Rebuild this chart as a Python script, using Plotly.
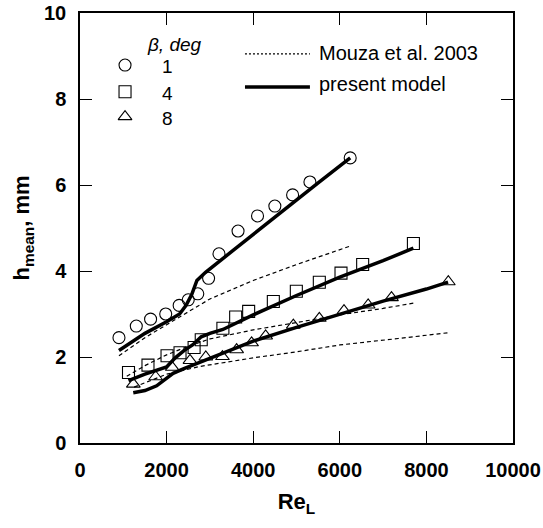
import plotly.graph_objects as go

# ---- data ----
re1 = [900, 1300, 1630, 1980, 2290, 2500, 2720, 2970, 3210, 3650, 4100, 4500, 4910, 5310, 6240]
h1 = [2.45, 2.72, 2.88, 3.0, 3.2, 3.33, 3.47, 3.83, 4.4, 4.93, 5.28, 5.51, 5.77, 6.07, 6.63]

re4 = [1120, 1570, 2010, 2310, 2635, 2800, 3300, 3595, 3895, 4465, 4996, 5527, 6028, 6528, 7700]
h4 = [1.64, 1.81, 2.03, 2.10, 2.22, 2.40, 2.67, 2.93, 3.06, 3.29, 3.53, 3.74, 3.95, 4.15, 4.64]

re8 = [1232, 1747, 2130, 2540, 2905, 3290, 3617, 3963, 4287, 4927, 5527, 6097, 6655, 7194, 8506]
h8 = [1.37, 1.54, 1.76, 1.92, 2.0, 2.01, 2.17, 2.33, 2.49, 2.74, 2.90, 3.08, 3.21, 3.38, 3.75]

model1_x = [900, 1500, 2000, 2300, 2450, 2580, 2700, 2900, 3500, 4000, 4500, 5000, 5500, 6240]
model1_y = [2.15, 2.55, 2.82, 3.0, 3.2, 3.45, 3.78, 3.97, 4.45, 4.85, 5.25, 5.67, 6.05, 6.63]
model4_x = [1120, 1500, 2000, 2200, 2400, 2600, 2800, 3000, 3300, 4000, 5000, 6000, 7000, 7700]
model4_y = [1.45, 1.6, 1.77, 1.98, 2.15, 2.28, 2.47, 2.55, 2.64, 2.98, 3.43, 3.86, 4.24, 4.53]
model8_x = [1230, 1500, 1770, 2000, 2150, 2400, 2620, 3000, 3500, 4000, 5000, 6000, 7000, 8000, 8500]
model8_y = [1.17, 1.22, 1.33, 1.5, 1.62, 1.73, 1.82, 1.97, 2.17, 2.37, 2.69, 3.0, 3.3, 3.58, 3.74]

mouza1_x = [900, 1500, 2000, 2500, 3000, 4000, 5000, 6270]
mouza1_y = [2.03, 2.45, 2.75, 3.05, 3.35, 3.78, 4.15, 4.59]
mouza4_x = [1080, 1500, 2000, 2500, 3000, 4000, 5000, 6000, 7000, 7740]
mouza4_y = [1.55, 1.8, 2.05, 2.25, 2.42, 2.63, 2.8, 2.98, 3.13, 3.26]
mouza8_x = [1250, 2000, 2770, 4000, 5000, 6000, 7350, 8550]
mouza8_y = [1.3, 1.6, 1.78, 1.98, 2.12, 2.28, 2.43, 2.57]

beta_labels = ["1", "4", "8"]
symbols = ["circle-open", "square-open", "triangle-up-open"]
x_ticks = [0, 2000, 4000, 6000, 8000, 10000]
y_ticks = [0, 2, 4, 6, 8, 10]

FONT = "Liberation Sans, Arial, sans-serif"

fig = go.Figure()

dash_style = dict(color="black", width=1.2, dash="4px,3px")
for mx, my in [(mouza1_x, mouza1_y), (mouza4_x, mouza4_y), (mouza8_x, mouza8_y)]:
    fig.add_trace(go.Scatter(x=mx, y=my, mode="lines", line=dash_style,
                             showlegend=False, hoverinfo="skip"))

for mx, my in [(model1_x, model1_y), (model4_x, model4_y), (model8_x, model8_y)]:
    fig.add_trace(go.Scatter(x=mx, y=my, mode="lines",
                             line=dict(color="black", width=3.5),
                             showlegend=False, hoverinfo="skip"))

for (rx, hy), sym in zip([(re1, h1), (re4, h4), (re8, h8)], symbols):
    fig.add_trace(go.Scatter(x=rx, y=hy, mode="markers",
                             marker=dict(symbol=sym, size=12, color="black",
                                         line=dict(width=1.1, color="black")),
                             showlegend=False))

# ---- manual legend (on an overlay axis spanning the plot area in [0,1]) ----
leg_x = 0.104
leg_y = [0.879, 0.817, 0.759]
for sym, ly in zip(symbols, leg_y):
    fig.add_trace(go.Scatter(x=[leg_x], y=[ly], mode="markers", xaxis="x2", yaxis="y2",
                             marker=dict(symbol=sym, size=12, color="black",
                                         line=dict(width=1.1, color="black")),
                             showlegend=False, hoverinfo="skip"))

def ann(x, y, text, xanchor="center", size=20):
    return dict(x=x, y=y, xref="paper", yref="paper", text=text, showarrow=False,
                xanchor=xanchor, yanchor="middle",
                font=dict(size=size, family=FONT, color="black"))

annotations = [ann(0.219, 0.927, "<i>β, deg</i>", size=19)]
for lab, ly in zip(beta_labels, leg_y):
    annotations.append(ann(0.203, ly - 0.004, lab, size=19))
annotations.append(ann(0.548, 0.907, "Mouza et al. 2003", "left"))
annotations.append(ann(0.548, 0.834, "present model", "left"))

shapes = [
    dict(type="line", xref="paper", yref="paper", x0=0.381, x1=0.531, y0=0.905, y1=0.905,
         line=dict(color="black", width=1.2, dash="2px,2px")),
    dict(type="line", xref="paper", yref="paper", x0=0.381, x1=0.531, y0=0.828, y1=0.828,
         line=dict(color="black", width=3.5)),
]

axis_common = dict(showgrid=False, zeroline=False, showline=True, linecolor="black",
                   linewidth=1.5, mirror="ticks", ticks="inside", ticklen=12,
                   tickwidth=1, tickcolor="black", automargin=False,
                   tickfont=dict(size=20, family=FONT, color="black", weight="bold"))

fig.update_layout(
    width=543, height=528,
    margin=dict(l=80, r=30, t=13, b=85),
    paper_bgcolor="white", plot_bgcolor="white",
    showlegend=False,
    xaxis=dict(range=[0, 10000], tickvals=x_ticks, ticktext=[str(v) for v in x_ticks],
               title=dict(text="Re<sub>L</sub>", standoff=14,
                          font=dict(size=22, family=FONT, color="black", weight="bold")),
               ticklabelstandoff=8,
               **axis_common),
    yaxis=dict(range=[0, 10], tickvals=y_ticks, ticktext=[str(v) for v in y_ticks],
               title=dict(text="h<sub>mean</sub>, mm", standoff=8,
                          font=dict(size=22, family=FONT, color="black", weight="bold")),
               ticklabelstandoff=8,
               **axis_common),
    xaxis2=dict(range=[0, 1], overlaying="x", visible=False, automargin=False),
    yaxis2=dict(range=[0, 1], overlaying="y", visible=False, automargin=False),
    annotations=annotations,
    shapes=shapes,
)

fig.write_html("out.html")
